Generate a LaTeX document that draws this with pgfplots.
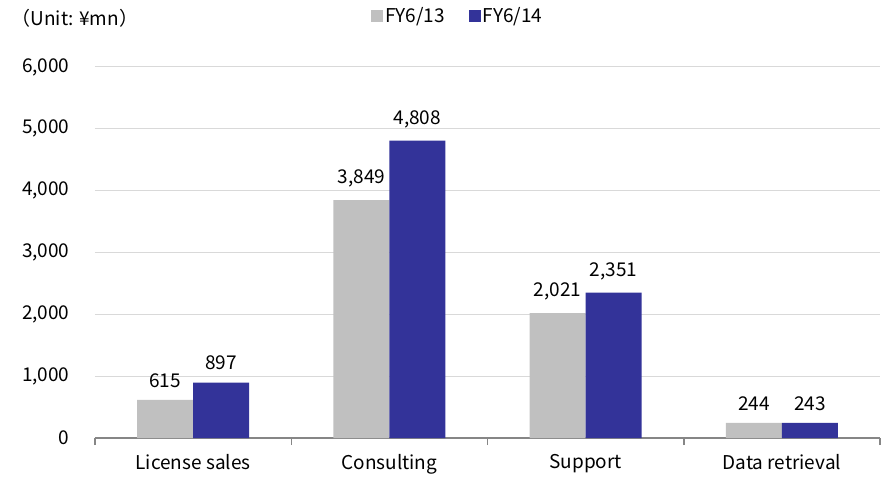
\documentclass[border=0pt]{standalone}
\usepackage{pgfplots}
\pgfplotsset{compat=1.18}
\usepackage{fontspec}
\setmainfont{Noto Sans CJK JP}
\definecolor{cgray}{RGB}{192,192,192}
\definecolor{cblue}{RGB}{51,51,153}
\definecolor{cgrid}{RGB}{217,217,217}
\definecolor{caxis}{RGB}{134,134,134}
\newcommand\f{\fontsize{19bp}{22bp}\selectfont}
\begin{document}
\begin{tikzpicture}[font=\f]
\begin{axis}[
  name=ax,
  scale only axis,
  width=785bp, height=371bp,
  xmin=-0.5, xmax=3.5,
  ymin=0, ymax=6000,
  ytick={0,1000,...,6000},
  ymajorgrids,
  grid style={cgrid, line width=1bp},
  xtick={0,1,2,3},
  xticklabels={License sales,Consulting,Support,Data retrieval},
  major tick length=0pt,
  extra x ticks={-0.5,0.5,1.5,2.5,3.5},
  extra x tick labels={},
  extra x tick style={major tick length=7bp, tick align=outside, tick style={caxis, line width=1.5bp}, grid=none},
  axis x line*=bottom,
  axis y line*=left,
  x axis line style={caxis, line width=2bp, -},
  y axis line style={draw=none},
  xticklabel style={yshift=-13bp},
  yticklabel style={xshift=-22bp},
  /pgf/number format/assume math mode=true,
  /pgf/number format/1000 sep={,},
  ybar=0pt,
  bar width=0.285,
  nodes near coords,
  every node near coord/.append style={anchor=south, yshift=9bp, font=\f, /pgf/number format/1000 sep={,}},
  legend style={at={(0.462,1.137)}, anchor=center, draw=none, legend columns=2, font=\f,
    /tikz/every even column/.append style={column sep=22bp}},
  legend image code/.code={\fill[#1] (0bp,-6bp) rectangle (12bp,6bp);},
]
\addplot[fill=cgray, draw=none] coordinates {(0,615) (1,3849) (2,2021) (3,244)};
\addplot[fill=cblue, draw=none] coordinates {(0,897) (1,4808) (2,2351) (3,243)};
\legend{FY6/13,FY6/14}
\end{axis}
\node[anchor=west] at ([xshift=-87bp,yshift=49bp]ax.north west) {（Unit: ¥mn）};
\path ([xshift=-95bp,yshift=-40bp]ax.south west) rectangle ([xshift=13bp,yshift=67bp]ax.north east);
\end{tikzpicture}
\end{document}
